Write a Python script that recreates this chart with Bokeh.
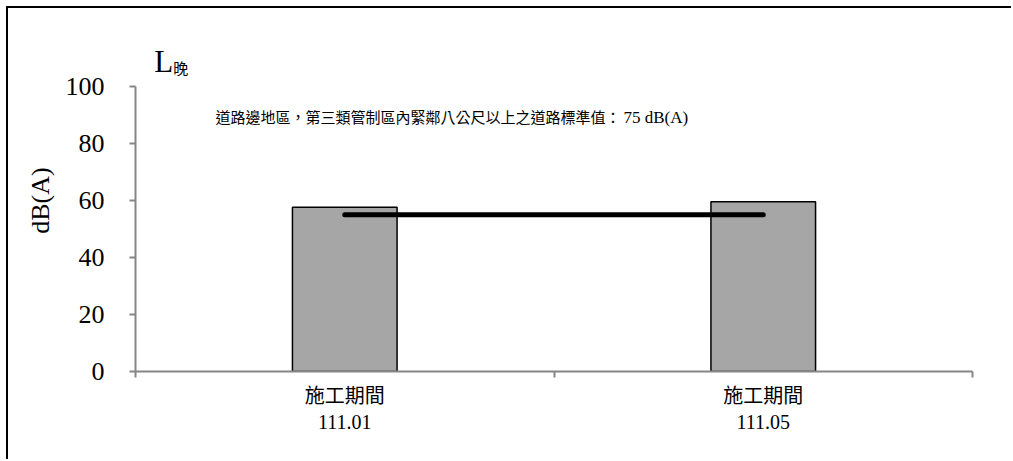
from bokeh.plotting import figure
from bokeh.models import FixedTicker, Label, Range1d, ColumnDataSource
from bokeh.embed import file_html
from bokeh.resources import INLINE

# ---- data ----
categories = ["施工期間\n111.01", "施工期間\n111.05"]
noise_values = [57.6, 59.6]
standard_values = [55, 55]
y_ticks = [0, 20, 40, 60, 80, 100]
title_main = "L"
title_sub = "晚"
note_prefix = "道路邊地區，第三類管制區內緊鄰八公尺以上之道路標準值："
note_value = "75 dB(A)"
y_label = "dB(A)"

SERIF = "'Liberation Serif', 'Noto Sans CJK TC'"
AXIS_GRAY = "#868686"

xs = [i + 0.5 for i in range(len(categories))]
bounds = [float(i) for i in range(len(categories) + 1)]
src = ColumnDataSource(dict(x=xs, top=noise_values, std=standard_values))

p = figure(width=1005, height=453,
           x_range=Range1d(0, len(categories)), y_range=Range1d(0, 120),
           output_backend="svg", toolbar_location=None,
           min_border_left=127, min_border_right=41,
           min_border_top=21, min_border_bottom=90)
p.styles = {"margin-left": "8px", "margin-top": "8px",
            "box-shadow": "-2px -2px 0px 0px black"}
p.outline_line_color = None
p.xgrid.grid_line_color = None
p.ygrid.grid_line_color = None
p.background_fill_color = "white"
p.border_fill_color = "white"

p.vbar(x="x", top="top", width=0.25, source=src,
       fill_color="#A6A6A6", line_color="black", line_width=1.5)
p.line(x="x", y="std", source=src, line_width=5, line_color="black", line_cap="round")

# x axis
p.xaxis.ticker = FixedTicker(ticks=xs, minor_ticks=bounds)
p.xaxis.major_label_overrides = {x: c for x, c in zip(xs, categories)}
p.xaxis.major_tick_line_color = None
p.xaxis.minor_tick_line_color = AXIS_GRAY
p.xaxis.minor_tick_line_width = 2
p.xaxis.minor_tick_out = 6
p.xaxis.minor_tick_in = 0
p.xaxis.axis_line_color = AXIS_GRAY
p.xaxis.axis_line_width = 2
p.xaxis.major_label_text_font = SERIF
p.xaxis.major_label_text_font_size = "20px"
p.xaxis.major_label_text_color = "black"
p.xaxis.major_label_standoff = 7

# y axis
p.yaxis.ticker = FixedTicker(ticks=y_ticks)
p.yaxis.bounds = (0, 100)
p.yaxis.axis_line_color = AXIS_GRAY
p.yaxis.axis_line_width = 2
p.yaxis.major_tick_line_color = AXIS_GRAY
p.yaxis.major_tick_line_width = 2
p.yaxis.major_tick_out = 6
p.yaxis.major_tick_in = 0
p.yaxis.minor_tick_line_color = None
p.yaxis.major_label_text_font = SERIF
p.yaxis.major_label_text_font_size = "26px"
p.yaxis.major_label_text_color = "black"
p.yaxis.major_label_standoff = 25
p.yaxis.axis_label = y_label
p.yaxis.axis_label_text_font = SERIF
p.yaxis.axis_label_text_font_size = "26px"
p.yaxis.axis_label_text_font_style = "normal"
p.yaxis.axis_label_text_color = "black"
p.yaxis.axis_label_standoff = 8

# titles / notes
p.add_layout(Label(x=0.045, y=108.8, text=title_main, text_font=SERIF,
                   text_font_size="31px", text_baseline="alphabetic", text_color="black"))
p.add_layout(Label(x=0.09, y=106.0, text=title_sub, text_font=SERIF,
                   text_font_size="15px", text_baseline="alphabetic", text_color="black"))
p.add_layout(Label(x=1.159, y=89.1, text=note_prefix, text_font=SERIF,
                   text_font_size="15px", text_align="right", text_baseline="middle",
                   text_color="black"))
p.add_layout(Label(x=1.166, y=89.1, text=note_value, text_font=SERIF,
                   text_font_size="17px", text_align="left", text_baseline="middle",
                   text_color="black"))

open("out.html", "w").write(file_html(p, INLINE))
